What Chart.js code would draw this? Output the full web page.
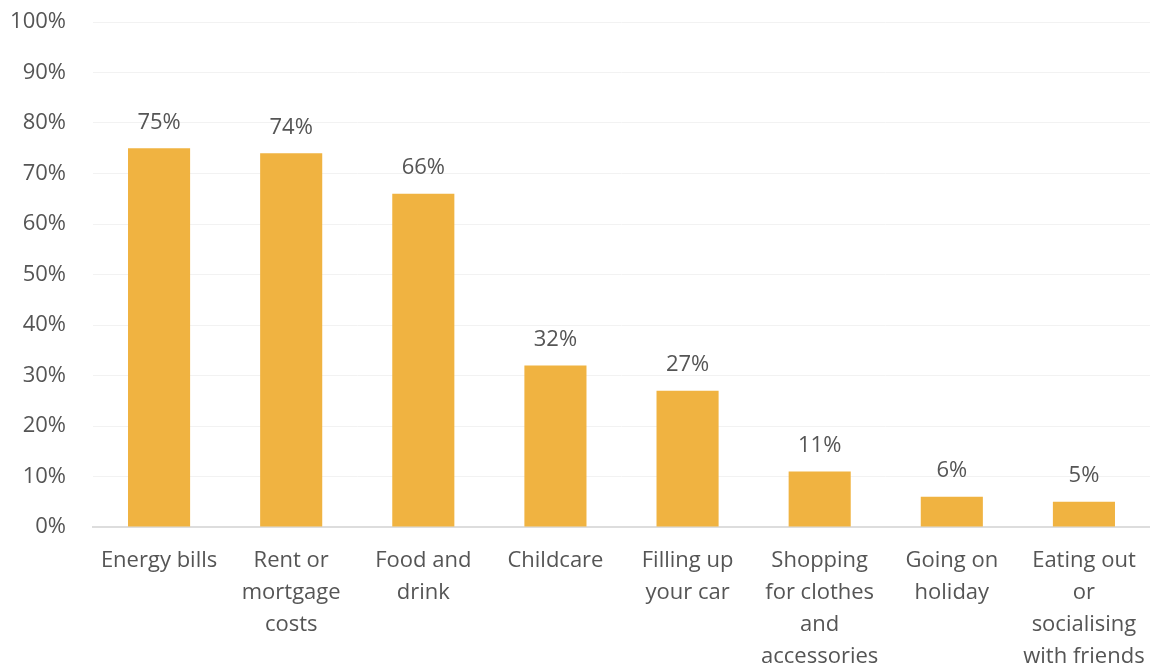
<!DOCTYPE html>
<html>
<head>
<meta charset="utf-8">
<script src="https://cdn.jsdelivr.net/npm/chart.js@4/dist/chart.umd.min.js"></script>
<style>
  html, body { margin: 0; padding: 0; background: #fff; }
  #wrap { width: 1150px; height: 669px; position: relative; }
</style>
</head>
<body>
<div id="wrap"><canvas id="costs-chart"></canvas></div>
<script>
// Household costs people are most worried about
const categories = [
  ["Energy bills"],
  ["Rent or", "mortgage", "costs"],
  ["Food and", "drink"],
  ["Childcare"],
  ["Filling up", "your car"],
  ["Shopping", "for clothes", "and", "accessories"],
  ["Going on", "holiday"],
  ["Eating out", "or", "socialising", "with friends"]
];
const shares = [75, 74, 66, 32, 27, 11, 6, 5];

const FONT = "'Open Sans', sans-serif";
const TEXT = "#555555";

// draws the "75%" style labels above each bar
const valueLabels = {
  id: "valueLabels",
  afterDatasetsDraw(chart) {
    const { ctx } = chart;
    const meta = chart.getDatasetMeta(0);
    ctx.save();
    ctx.font = "22px " + FONT;
    ctx.fillStyle = TEXT;
    ctx.textAlign = "center";
    ctx.textBaseline = "middle";
    meta.data.forEach((bar, i) => {
      ctx.fillText(shares[i] + "%", bar.x, bar.y - 26);
    });
    ctx.restore();
  }
};

const ctx = document.getElementById("costs-chart").getContext("2d");
new Chart(ctx, {
  type: "bar",
  data: {
    labels: categories,
    datasets: [{
      data: shares,
      backgroundColor: "#F0B341",
      barPercentage: 0.47,
      categoryPercentage: 1
    }]
  },
  options: {
    responsive: true,
    maintainAspectRatio: false,
    animation: false,
    layout: { padding: { top: 22, right: 0, left: 0, bottom: 0 } },
    plugins: {
      legend: { display: false },
      tooltip: { enabled: false }
    },
    scales: {
      x: {
        grid: { display: false, drawTicks: false },
        border: { color: "#dddddd", width: 2 },
        ticks: {
          color: TEXT,
          font: { family: FONT, size: 22, lineHeight: 32 / 22 },
          padding: 18,
          maxRotation: 0,
          autoSkip: false
        },
        afterFit(scale) {
          scale.height = 142;
          scale.paddingLeft = 0;
          scale.paddingRight = 0;
        }
      },
      y: {
        min: 0,
        max: 100,
        grid: { color: "#f2f2f2", drawTicks: false },
        border: { display: false },
        ticks: {
          stepSize: 10,
          color: TEXT,
          font: { family: FONT, size: 22 },
          padding: 27,
          callback: (v) => v + "%"
        },
        afterFit(scale) {
          scale.width = 93;
          scale.paddingTop = 0;
          scale.paddingBottom = 0;
        }
      }
    }
  },
  plugins: [valueLabels]
});
</script>
</body>
</html>
